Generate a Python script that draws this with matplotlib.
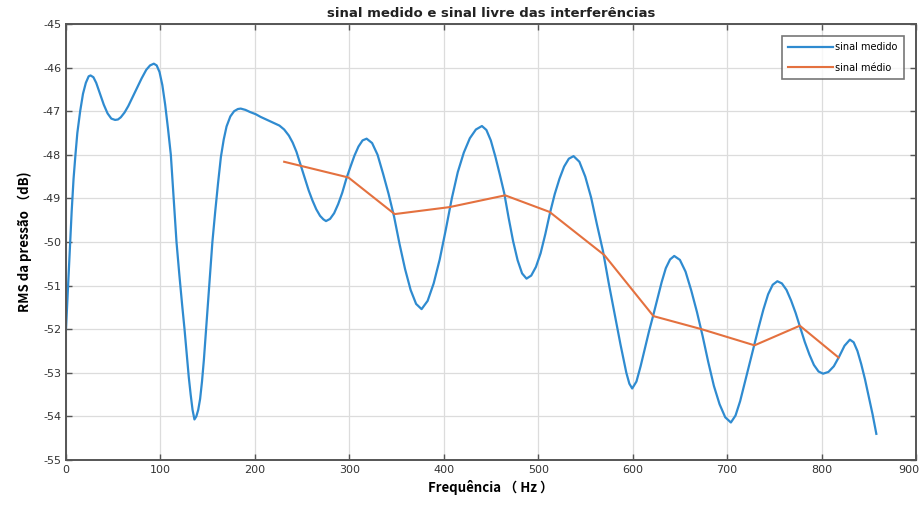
import matplotlib
matplotlib.use("Agg")
import matplotlib.pyplot as plt
import matplotlib.transforms as mtransforms

# Blue curve: sinal medido (frequency Hz, RMS dB)
freq_medido = [0, 2, 4, 6, 8, 10, 12, 15, 18, 21, 24, 26, 29, 32, 36, 40, 44, 48, 52, 55,
               58, 62, 66, 70, 75, 80, 85, 89, 93, 96, 99, 102, 105, 108, 111, 114, 117, 120,
               123, 125.5, 128, 130, 132, 134, 136, 138, 140, 142, 144, 146, 148, 150, 152,
               155, 158, 161, 164, 167, 170, 174, 178, 182, 185, 190, 195, 201, 206, 211,
               216, 221, 226, 231, 236, 240, 244, 249, 253, 257, 261, 265, 269, 272.5,
               275.3, 279.6, 283.9, 288.2, 292.5, 296.8, 301.1, 305.4, 309.7, 314.0, 318.3,
               324.1, 329.9, 335.8, 341.6, 347.4, 353.2, 359.0, 364.9, 370.7, 376.5,
               382.9, 389.3, 395.7, 402.1, 408.5, 414.8, 421.2, 427.6, 434.0, 440.4,
               445.1, 449.8, 454.6, 459.3, 464.0, 468.7, 473.4, 478.2, 482.9, 487.6,
               492.6, 497.6, 502.5, 507.5, 512.5, 517.5, 522.5, 527.4, 532.4, 537.4,
               543.6, 549.8, 556.0, 562.2, 568.5, 574.7, 580.9, 587.1, 593.3, 596.5, 599.5,
               604.0, 608.4, 612.9, 617.3, 621.8, 626.2, 630.7, 635.1, 639.6, 644.0,
               650, 656, 662, 668, 674, 680, 686, 692, 698, 704,
               708.9, 713.8, 718.8, 723.7, 728.6, 733.5, 738.4, 743.4, 748.3, 753.2,
               758.0, 762.9, 767.7, 772.6, 777.4, 782.2, 787.1, 791.9, 796.8, 801.6,
               807.3, 813.0, 818.6, 824.3, 830, 834, 838, 842, 846, 850, 854, 858]
rms_medido = [-52.0, -51.1, -50.2, -49.3, -48.55, -48.0, -47.5, -47.0, -46.6, -46.35, -46.2,
              -46.18, -46.22, -46.35, -46.6, -46.85, -47.05, -47.17, -47.2, -47.19,
              -47.14, -47.03, -46.88, -46.7, -46.47, -46.25, -46.05, -45.95, -45.91,
              -45.95, -46.1, -46.4, -46.85, -47.4, -48.0, -49.0, -50.0, -50.75, -51.45,
              -52.0, -52.6, -53.1, -53.5, -53.85, -54.07, -54.0, -53.85, -53.6, -53.2,
              -52.7, -52.1, -51.5, -50.9, -50.0, -49.3, -48.65, -48.05, -47.65, -47.35,
              -47.12, -47.0, -46.95, -46.94, -46.97, -47.02, -47.07, -47.13, -47.18,
              -47.23, -47.28, -47.33, -47.42, -47.56, -47.72, -47.93, -48.27,
              -48.55, -48.82, -49.05, -49.25, -49.4, -49.48,
              -49.52, -49.47, -49.34, -49.13, -48.87, -48.55, -48.28, -48.02, -47.81,
              -47.67, -47.63,
              -47.73, -48.0, -48.44, -48.9, -49.42, -50.05, -50.62, -51.1, -51.42, -51.54,
              -51.35, -50.95, -50.4, -49.72, -49.0, -48.4, -47.95, -47.62, -47.42, -47.34,
              -47.43, -47.67, -48.04, -48.45, -48.88, -49.45, -49.98, -50.42, -50.72,
              -50.84,
              -50.77, -50.57, -50.26, -49.82, -49.33, -48.9, -48.55, -48.27, -48.09,
              -48.03,
              -48.16, -48.5, -48.98, -49.6, -50.2, -50.95, -51.65, -52.35, -53.0, -53.25,
              -53.36,
              -53.2, -52.85, -52.45, -52.05, -51.68, -51.3, -50.92, -50.6, -50.4, -50.32,
              -50.41, -50.68, -51.11, -51.6, -52.15, -52.75, -53.3, -53.72, -54.02, -54.14,
              -53.98, -53.65, -53.22, -52.8, -52.37, -51.95, -51.55, -51.2, -50.98, -50.9,
              -50.95, -51.1, -51.34, -51.63, -51.96, -52.29, -52.58, -52.82, -52.97, -53.02,
              -52.98, -52.85, -52.63, -52.38, -52.24, -52.3, -52.5, -52.8, -53.15, -53.55,
              -53.95, -54.4]

# Orange line: sinal médio
freq_medio = [231, 299, 348, 406, 465, 512, 570, 622, 673, 729, 777, 818]
rms_medio = [-48.16, -48.52, -49.36, -49.2, -48.93, -49.31, -50.3, -51.7, -52.0, -52.37,
             -51.92, -52.65]

x_ticks = [0, 100, 200, 300, 400, 500, 600, 700, 800, 900]
y_ticks = [-55, -54, -53, -52, -51, -50, -49, -48, -47, -46, -45]

fig = plt.figure(figsize=(9.24, 5.08), dpi=100)
ax = fig.add_axes([66 / 924, 1 - 460 / 508, 850 / 924, 436 / 508])

ax.plot(freq_medido, rms_medido, color="#2f8bd0", lw=1.6, label="sinal medido")
ax.plot(freq_medio, rms_medio, color="#e4713f", lw=1.5, label="sinal médio")

ax.set_xlim(0, 900)
ax.set_ylim(-55, -45)
ax.set_xticks(x_ticks)
ax.set_yticks(y_ticks)
ax.set_xticklabels([str(t) for t in x_ticks])
ax.set_yticklabels([str(t) for t in y_ticks])
ax.grid(True, color="#dcdcdc", lw=0.9)
ax.set_axisbelow(True)
ax.tick_params(direction="in", top=True, right=True, length=4, width=1,
               color="#555555", labelsize=8, labelcolor="#333333")
for s in ax.spines.values():
    s.set_color("#555555")
    s.set_linewidth(1.4)

# keep the last x tick label inside the image
last = ax.get_xticklabels()[-1]
last.set_transform(last.get_transform() +
                   mtransforms.ScaledTranslation(-5 / 72, 0, fig.dpi_scale_trans))

ax.set_title("sinal medido e sinal livre das interferências", fontsize=9.5,
             fontweight="bold", color="#222222", pad=5)
ax.set_xlabel("Frequência （ Hz ）", fontsize=9.5, fontweight="bold", labelpad=4)
ax.set_ylabel("RMS da pressão （dB)", fontsize=9.5, fontweight="bold", labelpad=8,
              family=["Noto Sans CJK SC", "DejaVu Sans"])
ax.xaxis.label.set_family(["Noto Sans CJK SC", "DejaVu Sans"])

leg = ax.legend(loc="upper right", fontsize=7, frameon=True, fancybox=False,
                edgecolor="#555555", handlelength=4.6, borderaxespad=1.2,
                handletextpad=0.2, borderpad=0.7, labelspacing=1.05)
leg.get_frame().set_linewidth(1.2)

fig.savefig("out.png", dpi=100)
